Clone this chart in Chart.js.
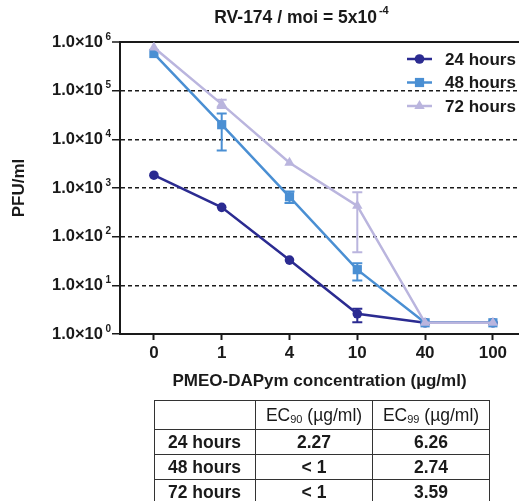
<!DOCTYPE html>
<html>
<head>
<meta charset="utf-8">
<script src="https://cdn.jsdelivr.net/npm/chart.js@4.4.1/dist/chart.umd.min.js"></script>
<style>
  html, body { margin:0; padding:0; background:#fff; }
  #wrap { position:relative; width:519px; height:501px; overflow:hidden; font-family:"Liberation Sans", Arial, sans-serif; color:#1a1a1a; }
  #c { position:absolute; left:0; top:0; }
  #title { position:absolute; left:0; width:603px; top:6px; text-align:center; font-weight:bold; font-size:17.5px; white-space:nowrap; }
  #title sup { font-size:11px; position:relative; top:-2px; margin-left:2px; }
  #tbl { position:absolute; left:154px; top:400px; border-collapse:collapse; font-size:17.5px; font-weight:bold; }
  #tbl td { border:1.5px solid #333; padding:0; height:24px; text-align:center; }
  #tbl tr:first-child td { height:28px; font-weight:normal; }
  #tbl td.rl { text-align:left; padding-left:13px; }
  #tbl sub { font-size:11px; vertical-align:-2px; }
</style>
</head>
<body>
<div id="wrap">
  <canvas id="c" width="519" height="501"></canvas>
  <div id="title">RV-174 / moi = 5x10<sup>-4</sup></div>
  <table id="tbl"></table>
</div>
<script>
// ---- data ----
const xCategories = ['0', '1', '4', '10', '40', '100'];
const seriesLabels = ['24 hours', '48 hours', '72 hours'];
const pfu24 = [1830, 400, 33, 2.6, 1.7, 1.7];
const pfu48 = [580000, 20000, 660, 21, 1.7, 1.7];
const pfu72 = [770000, 53000, 3300, 430, 1.7, 1.7];
const err24Low  = [null, null, null, 1.75, null, null];
const err24High = [null, null, null, 3.3, null, null];
const err48Low  = [null, 5900, 490, 12.5, null, null];
const err48High = [null, 34000, 850, 28.5, null, null];
const err72Low  = [null, 44000, null, 48, null, null];
const err72High = [null, 65000, null, 820, null, null];
const yTickExponents = [0, 1, 2, 3, 4, 5, 6];
const yTickBase = '1.0\u00d710';
const tableHeader = ['', 'EC|90| (\u00b5g/ml)', 'EC|99| (\u00b5g/ml)'];
const tableRows = [
  ['24 hours', '2.27', '6.26'],
  ['48 hours', '< 1', '2.74'],
  ['72 hours', '< 1', '3.59']
];

// ---- table ----
(function () {
  const tbl = document.getElementById('tbl');
  const widths = [100, 116, 116];
  const fmt = s => s.replace(/\|(\d+)\|/, '<sub>$1</sub>');
  const hr = document.createElement('tr');
  tableHeader.forEach((h, i) => { const td = document.createElement('td'); td.style.width = widths[i] + 'px'; td.innerHTML = fmt(h); hr.appendChild(td); });
  tbl.appendChild(hr);
  tableRows.forEach(r => {
    const tr = document.createElement('tr');
    r.forEach((v, i) => { const td = document.createElement('td'); if (i === 0) td.className = 'rl'; td.textContent = v; tr.appendChild(td); });
    tbl.appendChild(tr);
  });
})();

const FONT = '"Liberation Sans", Arial, sans-serif';
const INK = '#1a1a1a';
const colors = ['#2b2b91', '#4a8fd3', '#bab5de'];
const toXY = arr => arr.map((v, i) => ({ x: i, y: v }));

const errorBars = {
  id: 'errorBars',
  afterDatasetsDraw(chart) {
    const ctx = chart.ctx, ys = chart.scales.y, xs = chart.scales.x;
    chart.data.datasets.forEach((ds, di) => {
      if (!ds.errLow) return;
      ctx.save();
      ctx.strokeStyle = ds.borderColor;
      ctx.lineWidth = 2;
      ds.errLow.forEach((lo, i) => {
        const hi = ds.errHigh[i];
        if (lo == null || hi == null) return;
        const x = xs.getPixelForValue(i);
        const y1 = ys.getPixelForValue(lo), y2 = ys.getPixelForValue(hi);
        ctx.beginPath();
        ctx.moveTo(x, y1); ctx.lineTo(x, y2);
        ctx.moveTo(x - 5, y1); ctx.lineTo(x + 5, y1);
        ctx.moveTo(x - 5, y2); ctx.lineTo(x + 5, y2);
        ctx.stroke();
      });
      ctx.restore();
    });
  }
};

const yLabels = {
  id: 'yLabels',
  afterDraw(chart) {
    const ctx = chart.ctx, ys = chart.scales.y;
    ctx.save();
    ctx.fillStyle = INK;
    ctx.textBaseline = 'middle';
    ys.ticks.forEach((t, i) => {
      const y = ys.getPixelForValue(t.value);
      const exp = String(yTickExponents[i]);
      ctx.font = 'bold 10px ' + FONT;
      ctx.textAlign = 'right';
      ctx.fillText(exp, 111, y - 5);
      const ew = ctx.measureText(exp).width;
      ctx.font = 'bold 16.5px ' + FONT;
      ctx.fillText(yTickBase, 111 - ew - 2.5, y);
    });
    ctx.restore();
  }
};

const legendInside = {
  id: 'legendInside',
  afterDraw(chart) {
    const ctx = chart.ctx;
    ctx.save();
    chart.data.datasets.forEach((ds, i) => {
      const y = 59 + i * 23.5;
      ctx.strokeStyle = ds.borderColor;
      ctx.lineWidth = 2.5;
      ctx.beginPath(); ctx.moveTo(407, y); ctx.lineTo(432, y); ctx.stroke();
      ctx.fillStyle = ds.pointBackgroundColor;
      ctx.strokeStyle = ds.pointBackgroundColor;
      Chart.helpers.drawPoint(ctx, { pointStyle: ds.pointStyle, radius: ds.pointRadius, rotation: 0, borderWidth: 0 }, 419.5, y);
      ctx.fillStyle = INK;
      ctx.font = 'bold 17px ' + FONT;
      ctx.textAlign = 'left';
      ctx.textBaseline = 'middle';
      ctx.fillText(ds.label, 445, y + 1);
    });
    ctx.restore();
  }
};

const mkDs = (label, data, color, style, r, lo, hi, order) => ({
  label, data: toXY(data), borderColor: color, backgroundColor: color,
  pointBackgroundColor: color, pointBorderColor: color, pointBorderWidth: 0,
  pointStyle: style, pointRadius: r, borderWidth: 2.5, tension: 0,
  errLow: lo, errHigh: hi, order
});

new Chart(document.getElementById('c'), {
  type: 'line',
  data: {
    datasets: [
      mkDs(seriesLabels[0], pfu24, colors[0], 'circle', 4.8, err24Low, err24High, 2),
      mkDs(seriesLabels[1], pfu48, colors[1], 'rect', 6.5, err48Low, err48High, 1),
      mkDs(seriesLabels[2], pfu72, colors[2], 'triangle', 6, err72Low, err72High, 0)
    ]
  },
  options: {
    responsive: false,
    animation: false,
    devicePixelRatio: 1,
    layout: { autoPadding: false, padding: { top: 42, right: 0, bottom: 106, left: 0 } },
    plugins: { legend: { display: false }, title: { display: false }, tooltip: { enabled: false } },
    scales: {
      x: {
        type: 'linear', min: -0.5, max: 5.385,
        afterBuildTicks: s => { s.ticks = xCategories.map((c, i) => ({ value: i })); },
        afterFit: s => { s.height = 61; s.paddingLeft = 0; s.paddingRight = 0; },
        ticks: { callback: v => xCategories[v] ?? '', color: INK, font: { family: FONT, size: 17, weight: 'bold' }, padding: 3, maxRotation: 0, autoSkip: false },
        grid: { drawOnChartArea: false, drawTicks: true, tickLength: 6, tickWidth: 2, tickColor: INK },
        border: { display: true, color: INK, width: 2 },
        title: { display: true, text: 'PMEO-DAPym concentration (\u00b5g/ml)', color: INK, font: { family: FONT, size: 17, weight: 'bold' }, padding: { top: 0, bottom: 3 } }
      },
      y: {
        type: 'logarithmic', min: 1, max: 1e6,
        afterBuildTicks: s => { s.ticks = yTickExponents.map(e => ({ value: Math.pow(10, e) })); },
        afterFit: s => { s.width = 120; s.paddingTop = 0; s.paddingBottom = 0; },
        ticks: { display: false },
        grid: {
          color: INK,
          lineWidth: c => (c.tick && c.tick.value === 1e6 ? 2 : 1.5),
          drawTicks: true, tickLength: 8, tickWidth: 1.5, tickColor: INK
        },
        border: { display: true, color: INK, width: 2, dash: c => (c.tick && c.tick.value === 1e6 ? [] : [4, 3]) },
        title: { display: true, text: 'PFU/ml', color: INK, font: { family: FONT, size: 17, weight: 'bold' }, padding: { top: 9, bottom: 0 } }
      }
    }
  },
  plugins: [errorBars, yLabels, legendInside]
});
</script>
</body>
</html>
